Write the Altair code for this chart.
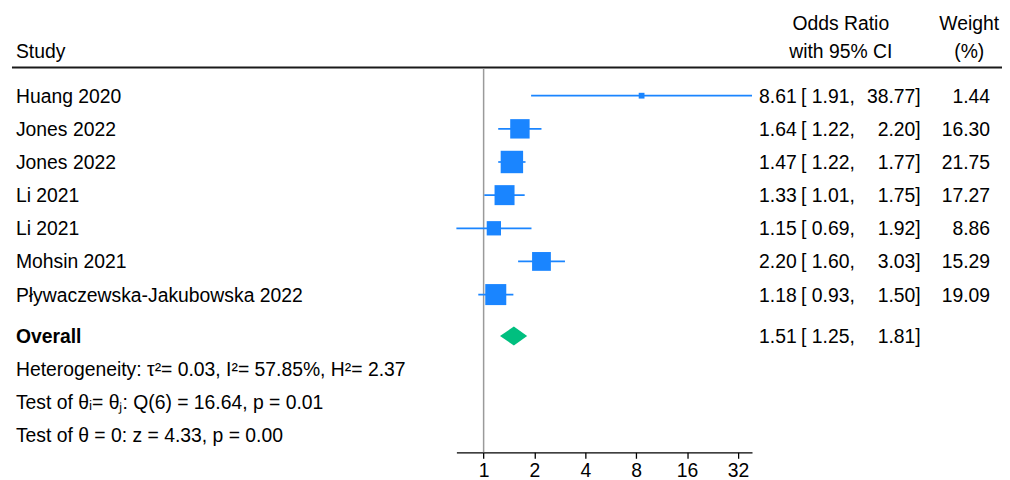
import altair as alt
import pandas as pd

# ---------------- data ----------------
studies = ["Huang 2020", "Jones 2022", "Jones 2022", "Li 2021", "Li 2021",
           "Mohsin 2021", "Pływaczewska-Jakubowska 2022"]
odds = [8.61, 1.64, 1.47, 1.33, 1.15, 2.20, 1.18]
ci_low = [1.91, 1.22, 1.22, 1.01, 0.69, 1.60, 0.93]
ci_high = [38.77, 2.20, 1.77, 1.75, 1.92, 3.03, 1.50]
weights = [1.44, 16.30, 21.75, 17.27, 8.86, 15.29, 19.09]

overall_label = "Overall"
overall_or = 1.51
overall_low = 1.25
overall_high = 1.81

stats_lines = [
    "Heterogeneity: τ²= 0.03, I²= 57.85%, H²= 2.37",
    "Test of θᵢ= θⱼ: Q(6) = 16.64, p = 0.01",
    "Test of θ = 0: z = 4.33, p = 0.00",
]
x_ticks = [1, 2, 4, 8, 16, 32]

# ---------------- style ----------------
FONT = "Liberation Sans"
FS = 19.5
BLUE = "#1a85ff"
GREEN = "#00bf7f"
TXT = "#000000"
DY = 7

n = len(studies)
study_df = pd.DataFrame({
    "study": studies, "or": odds, "lo": ci_low, "hi": ci_high, "w": weights,
    "row": list(range(n)),
})
study_df["est_t"] = [f"{v:.2f}" for v in odds]
study_df["lo_t"] = [f"[ {v:.2f}," for v in ci_low]
study_df["hi_t"] = [f"{v:.2f}]" for v in ci_high]
study_df["w_t"] = [f"{v:.2f}" for v in weights]

overall_row = n + 0.25
overall_df = pd.DataFrame({
    "label": [overall_label], "row": [overall_row],
    "est_t": [f"{overall_or:.2f}"], "lo_t": [f"[ {overall_low:.2f},"],
    "hi_t": [f"{overall_high:.2f}]"],
})
half = 0.284
diamond_df = pd.DataFrame({
    "x": [overall_low, overall_or, overall_high],
    "y": [overall_row, overall_row - half, overall_row],
    "y2": [overall_row, overall_row + half, overall_row],
})
stats_df = pd.DataFrame({
    "txt": stats_lines,
    "row": [n + 1.25 + i for i in range(len(stats_lines))],
})

last_row = n + 1.25 + len(stats_lines) - 1
xscale = alt.Scale(type="log", base=2, domain=[min(ci_low), max(ci_high)],
                   range=[452, 750], nice=False)
yscale = alt.Scale(domain=[0, last_row], range=[86.5, 429], nice=False, zero=False)
xaxis = alt.Axis(values=x_ticks, format="d", title=None, grid=False,
                 labelFlush=False, labelOverlap=False)

dummy = pd.DataFrame({"a": [0]})


def label(text, x, y, align="left", weight="normal"):
    return alt.Chart(dummy).mark_text(
        align=align, baseline="alphabetic", font=FONT, fontSize=FS,
        fontWeight=weight, color=TXT
    ).encode(x=alt.value(x), y=alt.value(y), text=alt.value(text))


def col_text(df, field, x, align):
    return alt.Chart(df).mark_text(
        align=align, baseline="alphabetic", font=FONT, fontSize=FS, color=TXT, dy=DY
    ).encode(
        x=alt.value(x),
        y=alt.Y("row:Q", scale=yscale, axis=None),
        text=alt.Text(f"{field}:N"),
    )


layers = []
# header
layers.append(label("Study", 8, 48.5))
layers.append(label("Odds Ratio", 839.5, 20.5, align="center"))
layers.append(label("with 95% CI", 839.5, 48.5, align="center"))
layers.append(label("Weight", 969, 20.5, align="center"))
layers.append(label("(%)", 969, 48.5, align="center"))
layers.append(alt.Chart(dummy).mark_rule(color="#1a1a1a", strokeWidth=2).encode(
    x=alt.value(4), x2=alt.value(1002), y=alt.value(58)))

# reference line at OR = 1
layers.append(alt.Chart(dummy).mark_rule(color="#9a9a9a", strokeWidth=1.5).encode(
    x=alt.X("datum_one:Q", scale=xscale, axis=xaxis),
    y=alt.value(59), y2=alt.value(446)
).transform_calculate(datum_one="1"))

# CI lines
layers.append(alt.Chart(study_df).mark_rule(color=BLUE, strokeWidth=1.7).encode(
    x=alt.X("lo:Q", scale=xscale, axis=xaxis),
    x2="hi:Q",
    y=alt.Y("row:Q", scale=yscale, axis=None),
))
# squares
layers.append(alt.Chart(study_df).mark_square(color=BLUE, opacity=1, filled=True).encode(
    x=alt.X("or:Q", scale=xscale, axis=xaxis),
    y=alt.Y("row:Q", scale=yscale, axis=None),
    size=alt.Size("w:Q", scale=alt.Scale(domain=[0, 25], range=[0, 587.5]), legend=None),
))
# diamond
layers.append(alt.Chart(diamond_df).mark_area(color=GREEN, opacity=1).encode(
    x=alt.X("x:Q", scale=xscale, axis=xaxis),
    y=alt.Y("y:Q", scale=yscale, axis=None),
    y2="y2:Q",
))

# study text columns
layers.append(col_text(study_df, "study", 8, "left"))
layers.append(col_text(study_df, "est_t", 795, "right"))
layers.append(col_text(study_df, "lo_t", 799.5, "left"))
layers.append(col_text(study_df, "hi_t", 920, "right"))
layers.append(col_text(study_df, "w_t", 990, "right"))

# overall
layers.append(alt.Chart(overall_df).mark_text(
    align="left", baseline="alphabetic", font=FONT, fontSize=FS, fontWeight="bold",
    color=TXT, dy=DY
).encode(x=alt.value(8), y=alt.Y("row:Q", scale=yscale, axis=None), text="label:N"))
layers.append(col_text(overall_df, "est_t", 795, "right"))
layers.append(col_text(overall_df, "lo_t", 799.5, "left"))
layers.append(col_text(overall_df, "hi_t", 920, "right"))

# stats lines
layers.append(col_text(stats_df, "txt", 8, "left"))

chart = alt.layer(*layers).properties(
    width=1002, height=446,
    padding={"left": 0, "top": 0, "right": 0, "bottom": 26},
    autosize=alt.AutoSizeParams(type="none"),
    background="white",
).configure_view(strokeWidth=0).configure_axis(
    domainColor="#000000", domainWidth=1.3, tickColor="#000000", tickWidth=1.3,
    tickSize=6, labelFont=FONT, labelFontSize=FS, labelColor=TXT, labelPadding=3,
)

chart.save("out.html", embed_options={"renderer": "svg", "actions": False})
